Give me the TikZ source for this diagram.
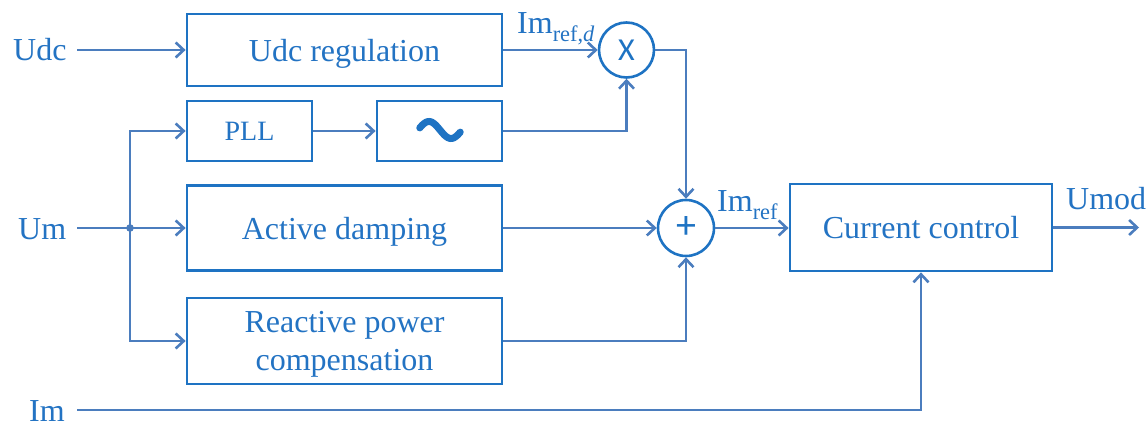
\documentclass[tikz,border=0pt]{standalone}
\usepackage{fontspec}
\setmainfont{Liberation Serif}
\newfontfamily\opfont{Carlito}
\usetikzlibrary{arrows.meta,calc}
\definecolor{boxcol}{RGB}{30,115,195}
\definecolor{linecol}{RGB}{75,125,190}
\definecolor{textcol}{RGB}{35,115,195}
\tikzset{
  blk/.style={draw=boxcol, line width=2.8pt, rectangle, inner sep=0pt, align=center,
    text=textcol, text depth=0pt, font=\fontsize{32}{38}\selectfont},
  opc/.style={draw=boxcol, line width=2.6pt, circle, inner sep=0pt, minimum size=55pt,
    text=boxcol, font=\opfont\fontsize{32}{32}\selectfont},
  lbl/.style={inner sep=0pt, anchor=base west, text=textcol, font=\fontsize{32}{38}\selectfont},
  arr/.style={draw=linecol, line width=2.7pt, -{Straight Barb[length=8pt,width=15pt,line width=2.6pt]}},
}
\begin{document}
\begin{tikzpicture}[x=1pt,y=-1pt]
\useasboundingbox (0,0) rectangle (1148,427);
% blocks
\node[blk, minimum width=315pt, minimum height=72pt] (udcreg) at (344.5,50) {Udc regulation};
\node[blk, minimum width=125pt, minimum height=60pt, font=\fontsize{28}{32}\selectfont] (pll) at (249.5,131) {PLL};
\node[blk, minimum width=125pt, minimum height=60pt] (sine) at (439.5,131) {};
\node[blk, minimum width=315pt, minimum height=85pt] (damp) at (344.5,228) {Active damping};
\node[blk, minimum width=315pt, minimum height=86pt] (react) at (344.5,341) {Reactive power\\compensation};
\node[blk, minimum width=262pt, minimum height=87pt] (cc) at (921,227.5) {Current control};
\node[opc] (mult) at (626.5,50) {X};
\node[opc, minimum size=56pt, font=\opfont\fontsize{40}{40}\selectfont] (sum) at (686,228) {+};
% tilde
\draw[boxcol, line width=7pt, line cap=round]
  plot[domain=-0.92:0.92, samples=40, smooth] ({440+22*\x},{130+8.5*sin(180*\x)});
% labels
\node[lbl] (udclbl) at (13,60.5) {Udc};
\node[lbl] (umlbl) at (18,240) {Um};
\node[lbl] (imlbl) at (29,421) {Im};
\node[lbl] (imrefd) at (517,34) {Im\textsubscript{ref,\textit{d}}};
\node[lbl] (imref) at (717,212) {Im\textsubscript{ref}};
\node[lbl] (umodlbl) at (1066,210) {Umod};
% coordinates
\coordinate (udcin) at (77,50);
\coordinate (umin) at (77,228);
\coordinate (imin) at (77,410);
\coordinate (j) at (130,228);
\coordinate (umodend) at (1139,227.5);
% connectors
\draw[arr] (udcin) -- (udcreg.west);
\draw[arr] (umin) -- (damp.west);
\fill[linecol] (j) circle (3.8pt);
\draw[arr] (j) |- (pll.west);
\draw[arr] (j) |- (react.west);
\draw[arr] (pll.east) -- (sine.west);
\draw[arr] (udcreg.east) -- (mult.west);
\draw[arr] (sine.east) -| (mult.south);
\draw[arr] (mult.east) -| (sum.north);
\draw[arr] (damp.east) -- (sum.west);
\draw[arr] (react.east) -| (sum.south);
\draw[arr] (sum.east) -- (sum.east -| cc.west);
\draw[arr] (cc.east) -- (umodend);
\draw[arr] (imin) -| (cc.south);
\end{tikzpicture}
\end{document}
